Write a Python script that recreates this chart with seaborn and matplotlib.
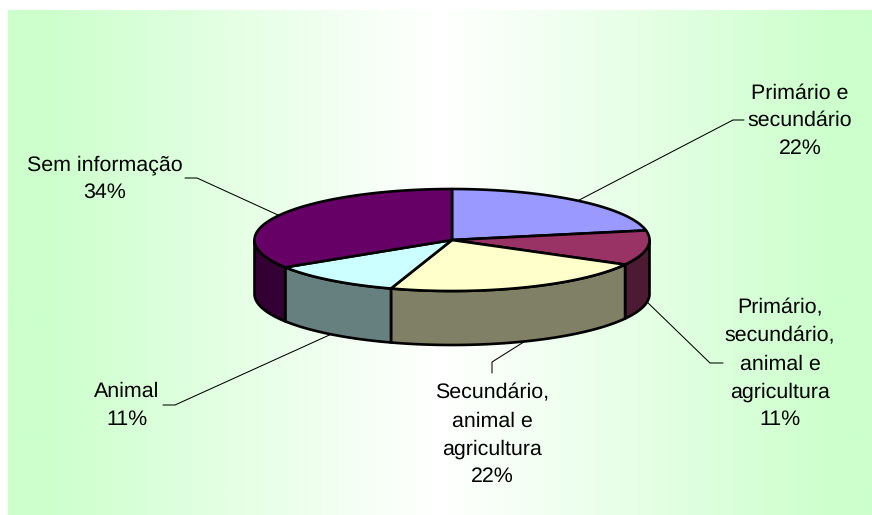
import numpy as np
import matplotlib
matplotlib.use("Agg")
import matplotlib.pyplot as plt
from matplotlib.patches import Polygon
from matplotlib.colors import LinearSegmentedColormap
import seaborn as sns

# Origin of the tests by sector, clockwise from twelve o'clock
categories = [
    "Primário e\nsecundário",
    "Primário,\nsecundário,\nanimal e\nagricultura",
    "Secundário,\nanimal e\nagricultura",
    "Animal",
    "Sem informação",
]
values = [22, 11, 22, 11, 34]
top_colors = ["#9999FF", "#993366", "#FFFFCC", "#CCFFFF", "#660066"]

# Label centre x, last-line baseline y and leader elbows, in pixels
label_pos = [(800, 154), (780, 425), (492, 482), (127, 425), (105, 198)]
label_elbow = [
    [(733, 120), (744, 120)],
    [(710, 363), (723, 363)],
    [(492, 362), (492, 373)],
    [(175, 405), (163, 405)],
    [(197, 178), (185, 178)],
]
LINE_STEP = 27.8

W, H = 872, 515
CX, CY, RX, RY, DEPTH = 452, 240, 197.5, 51, 54

sns.set_theme(style="white")
plt.rcParams["font.family"] = ["Liberation Sans", "DejaVu Sans"]
plt.rcParams["text.hinting"] = "no_hinting"

fig = plt.figure(figsize=(W / 100, H / 100), dpi=100, facecolor="white")
ax = fig.add_axes([0, 0, 1, 1])
ax.set_xlim(0, W)
ax.set_ylim(H, 0)
ax.axis("off")

# Horizontal green-white-green backdrop
stops = [8, 40, 440, 840, 872]
cols = ["#CCFFCC", "#CCFFCC", "#FFFFFF", "#CCFFCC", "#CCFFCC"]
cmap = LinearSegmentedColormap.from_list(
    "backdrop", [((s - 8) / (872 - 8), c) for s, c in zip(stops, cols)]
)
ax.imshow(np.linspace(0, 1, 864)[None, :], cmap=cmap, aspect="auto",
          extent=(8, 872, H, 10), zorder=0)
ax.set_xlim(0, W)
ax.set_ylim(H, 0)


def rim(deg, drop=0.0):
    """Point on the pie rim at a clockwise angle from twelve o'clock."""
    a = np.radians(deg)
    return CX + RX * np.sin(a), CY - RY * np.cos(a) + drop


def arc(d1, d2, drop=0.0):
    t = np.linspace(d1, d2, 120)
    return np.column_stack(rim(t, drop))


palette = sns.color_palette(top_colors)
edges = np.cumsum([0] + values) * 3.6
LW = 1.9

# Outer wall of the slices on the near half, shaded at half brightness
for i, color in enumerate(palette):
    lo, hi = max(edges[i], 90), min(edges[i + 1], 270)
    if lo >= hi:
        continue
    wall = np.vstack([arc(lo, hi), arc(lo, hi, DEPTH)[::-1]])
    side = tuple(c * 0.5 for c in color)
    ax.add_patch(Polygon(wall, closed=True, facecolor=side, edgecolor="black",
                         linewidth=LW, joinstyle="round", zorder=2))

# Top faces
for i, color in enumerate(palette):
    face = np.vstack([[CX, CY], arc(edges[i], edges[i + 1])])
    ax.add_patch(Polygon(face, closed=True, facecolor=color, edgecolor="black",
                         linewidth=LW, joinstyle="round", zorder=3))

# Labels with leaders running from each slice's mid-angle
for i, (name, val) in enumerate(zip(categories, values)):
    mid = (edges[i] + edges[i + 1]) / 2
    near = 90 < mid < 270
    start = rim(mid, DEPTH if near else 0)
    pts = np.array([start] + label_elbow[i])
    ax.plot(pts[:, 0], pts[:, 1], color="black", linewidth=0.75, zorder=1)
    rows = f"{name}\n{val}%".split("\n")
    x, last_y = label_pos[i]
    for k, row in enumerate(rows):
        ax.text(x, last_y - (len(rows) - 1 - k) * LINE_STEP, row, ha="center",
                va="baseline", fontsize=15.4, color="black", zorder=4)

fig.savefig("out.png", dpi=100)
